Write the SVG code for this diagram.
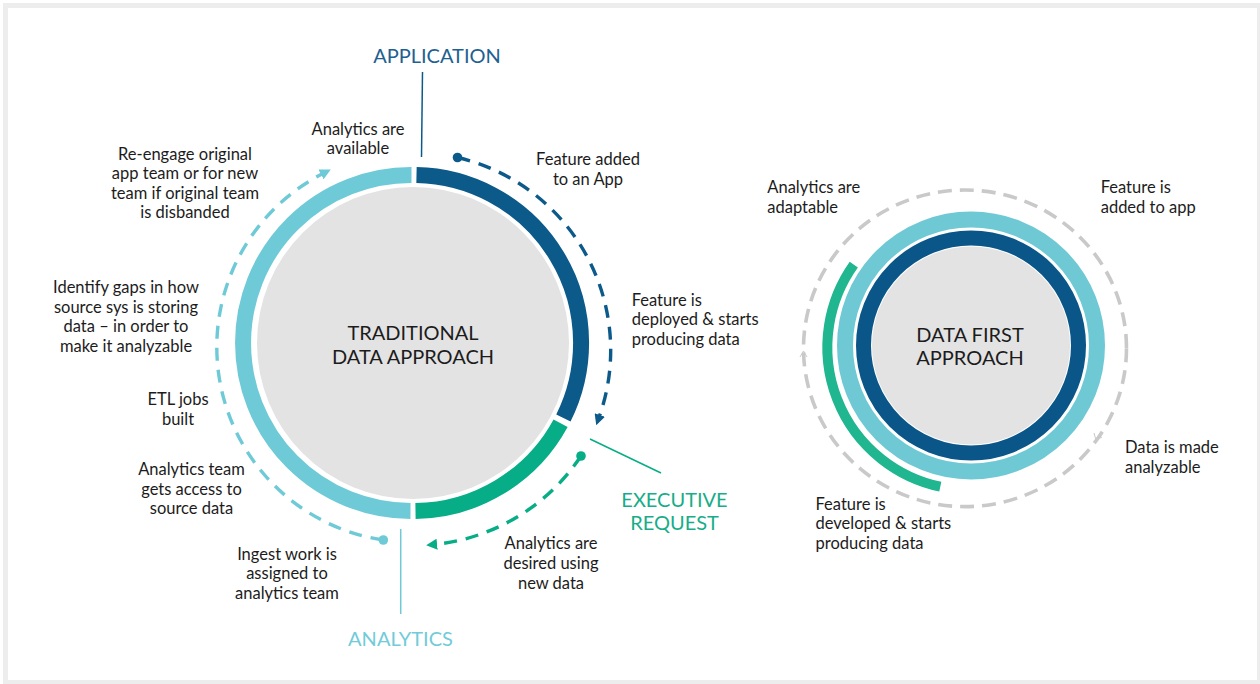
<svg xmlns="http://www.w3.org/2000/svg" width="1260" height="684" viewBox="0 0 1260 684">
  <style>
    .lbl { font-family: Lato, "Open Sans", "Liberation Sans", sans-serif; font-size: 16.5px; fill: #1c1c1c; }
    .mid { text-anchor: middle; }
    .hub { font-family: Lato, "Open Sans", "Liberation Sans", sans-serif; font-size: 20px; fill: #1c1c1c; text-anchor: middle; }
    .head { font-family: Lato, "Open Sans", "Liberation Sans", sans-serif; font-size: 20px; text-anchor: middle; }
    .ring { fill: none; stroke-width: 16; }
    .dash { fill: none; stroke-width: 3.4; stroke-dasharray: 13 9; }
    .navy { stroke: #0c5a8a; }
    .teal { stroke: #06ad86; }
    .sky { stroke: #6fcad7; }
  </style>
  <defs>
    <marker id="arrNavy" viewBox="0 0 10 10" refX="1" refY="5" markerWidth="11" markerHeight="11" markerUnits="userSpaceOnUse" orient="auto">
      <path d="M0,0 L10,5 L0,10 z" fill="#0c5a8a"/>
    </marker>
    <marker id="arrTeal" viewBox="0 0 10 10" refX="1" refY="5" markerWidth="11" markerHeight="11" markerUnits="userSpaceOnUse" orient="auto">
      <path d="M0,0 L10,5 L0,10 z" fill="#06ad86"/>
    </marker>
    <marker id="arrSky" viewBox="0 0 10 10" refX="1" refY="5" markerWidth="11" markerHeight="11" markerUnits="userSpaceOnUse" orient="auto">
      <path d="M0,0 L10,5 L0,10 z" fill="#6fcad7"/>
    </marker>
  </defs>

  <!-- frame -->
  <rect x="0" y="0" width="1260" height="684" fill="#fff"/>
  <rect x="5.5" y="5.5" width="1254" height="677" fill="none" stroke="#ededed" stroke-width="5"/>

  <!-- traditional cycle -->
  <g id="traditional">
    <circle cx="413" cy="343" r="156" fill="#e4e3e4"/>
    <path class="ring navy" d="M416.5 175 A168 168 0 0 1 563.4 418"/>
    <path class="ring teal" d="M560.6 423.2 A168 168 0 0 1 415.5 511"/>
    <path class="ring sky" d="M410.5 511 A168 168 0 0 1 411.5 175"/>
    <text class="hub" x="413" y="340">TRADITIONAL</text>
    <text class="hub" x="413" y="364">DATA APPROACH</text>
  </g>

  <!-- data first cycle -->
  <g id="data-first">
    <ellipse cx="965" cy="348.3" rx="161.5" ry="158.3" fill="none" stroke="#c9c9c9" stroke-width="3.6" stroke-dasharray="14 8"/>
    <path d="M800 357 L803.5 351 L807 357" fill="none" stroke="#c9c9c9" stroke-width="1"/>
    <path d="M1094 433 L1096 440 L1102 437" fill="none" stroke="#c9c9c9" stroke-width="1"/>
    <circle cx="971" cy="345.5" r="126" fill="none" stroke="#6ec9d5" stroke-width="16"/>
    <circle cx="971" cy="345.5" r="107.5" fill="none" stroke="#0b5689" stroke-width="15"/>
    <circle cx="971" cy="345.5" r="99" fill="#e4e3e4"/>
    <path d="M940.3 486.7 A142.5 142.5 0 0 1 853.8 264.6" fill="none" stroke="#1fb690" stroke-width="10"/>
    <text class="hub" x="970" y="342">DATA FIRST</text>
    <text class="hub" x="970" y="365">APPROACH</text>
  </g>

  <!-- connectors -->
  <g id="connectors">
    <line x1="422.5" y1="72" x2="421.5" y2="157" stroke="#0c5a8a" stroke-width="1.5"/>
    <line x1="590" y1="439" x2="661" y2="473" stroke="#06ad86" stroke-width="1.5"/>
    <line x1="400.7" y1="529" x2="400.7" y2="614" stroke="#6fcad7" stroke-width="1.5"/>

    <circle cx="457.5" cy="157.5" r="4.8" fill="#0c5a8a"/>
    <path class="dash navy" d="M457.5 157.5 A198 198 0 0 1 599.5 416" marker-end="url(#arrNavy)"/>

    <circle cx="581" cy="456" r="4.8" fill="#06ad86"/>
    <path class="dash teal" d="M581 456 A200 200 0 0 1 436 544.3" marker-end="url(#arrTeal)"/>

    <circle cx="383.3" cy="540" r="4.8" fill="#6fcad7"/>
    <path class="dash sky" d="M383.3 540 A195 195 0 0 1 322 174" marker-end="url(#arrSky)"/>
  </g>

  <!-- stage headings -->
  <g id="headings">
    <text class="head" x="437" y="63" fill="#1d6190">APPLICATION</text>
    <text class="head" x="674.5" y="507" fill="#17ad88">EXECUTIVE</text>
    <text class="head" x="674.5" y="530" fill="#17ad88">REQUEST</text>
    <text class="head" x="400.5" y="646" fill="#72cbd8">ANALYTICS</text>
  </g>

  <!-- step labels, traditional -->
  <g id="steps-traditional">
    <text class="lbl mid" x="358" y="135">Analytics are</text>
    <text class="lbl mid" x="358" y="154">available</text>
    <text class="lbl mid" x="588" y="165">Feature added</text>
    <text class="lbl mid" x="588" y="184.5">to an App</text>
    <text class="lbl" x="631.7" y="305.5">Feature is</text>
    <text class="lbl" x="631.7" y="325">deployed &amp; starts</text>
    <text class="lbl" x="631.7" y="344.5">producing data</text>
    <text class="lbl mid" x="551" y="549">Analytics are</text>
    <text class="lbl mid" x="551" y="569">desired using</text>
    <text class="lbl mid" x="551" y="588.5">new data</text>
    <text class="lbl mid" x="287" y="559.5">Ingest work is</text>
    <text class="lbl mid" x="287" y="579">assigned to</text>
    <text class="lbl mid" x="287" y="598.5">analytics team</text>
    <text class="lbl mid" x="191.5" y="475">Analytics team</text>
    <text class="lbl mid" x="191.5" y="494.5">gets access to</text>
    <text class="lbl mid" x="191.5" y="514">source data</text>
    <text class="lbl mid" x="178" y="405">ETL jobs</text>
    <text class="lbl mid" x="178" y="424.5">built</text>
    <text class="lbl mid" x="126" y="293">Identify gaps in how</text>
    <text class="lbl mid" x="126" y="312.5">source sys is storing</text>
    <text class="lbl mid" x="126" y="332">data – in order to</text>
    <text class="lbl mid" x="126" y="351.5">make it analyzable</text>
    <text class="lbl mid" x="185" y="159.5">Re-engage original</text>
    <text class="lbl mid" x="185" y="179">app team or for new</text>
    <text class="lbl mid" x="185" y="198.5">team if original team</text>
    <text class="lbl mid" x="185" y="218">is disbanded</text>
  </g>

  <!-- step labels, data first -->
  <g id="steps-data-first">
    <text class="lbl" x="767.3" y="193.3">Analytics are</text>
    <text class="lbl" x="767.3" y="212.8">adaptable</text>
    <text class="lbl" x="1100.7" y="193.3">Feature is</text>
    <text class="lbl" x="1100.7" y="212.8">added to app</text>
    <text class="lbl" x="1125" y="453.3">Data is made</text>
    <text class="lbl" x="1125" y="472.8">analyzable</text>
    <text class="lbl" x="815.5" y="509.5">Feature is</text>
    <text class="lbl" x="815.5" y="529">developed &amp; starts</text>
    <text class="lbl" x="815.5" y="548.5">producing data</text>
  </g>
</svg>
